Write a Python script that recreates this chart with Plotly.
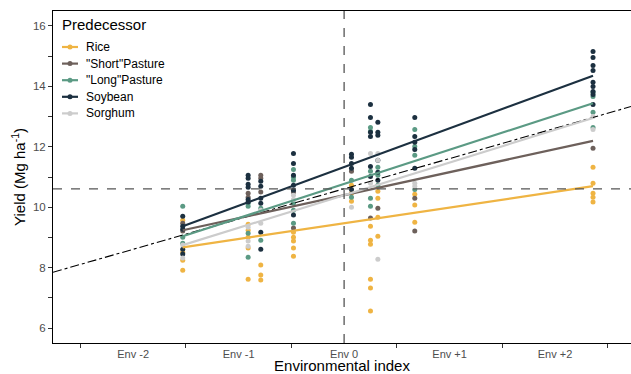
import plotly.graph_objects as go

# ---------------- data ----------------
env_index = [-1.53, -0.91, -0.79, -0.48, 0.07, 0.25, 0.32, 0.67, 2.36]
env_ticks = [-2, -1, 0, 1, 2]
env_labels = ["Env -2", "Env -1", "Env 0", "Env +1", "Env +2"]
grand_mean = 10.61

series_names = ["Rice", "\"Short\"Pasture", "\"Long\"Pasture", "Soybean", "Sorghum"]
series_colors = ["#EFB443", "#6D605B", "#5B9A84", "#1C3040", "#CCCCCC"]

rice = [
    [9.57, 8.51, 8.25, 7.92],
    [9.44, 9.24, 9.01, 8.65, 7.62],
    [8.09, 7.76, 7.59],
    [9.17, 9.01, 8.88, 8.65, 8.38],
    [10.73, 10.46, 10.20],
    [9.37, 8.91, 8.78, 7.62, 7.33, 6.57],
    [10.53, 10.30, 9.67, 9.04],
    [10.43, 10.07, 9.50],
    [11.32, 10.79, 10.46, 10.33, 10.17],
]
short_pasture = [
    [9.47, 9.21],
    [10.46, 10.33],
    [11.06, 10.96, 10.50],
    [10.50, 9.31],
    [11.19],
    [9.64],
    [9.97],
    [10.30, 9.21],
    [11.95],
]
long_pasture = [
    [10.03, 9.01, 8.81],
    [10.13, 10.03, 9.14, 8.35],
    [9.97, 8.91],
    [11.25, 10.99, 10.89, 10.13, 9.90, 9.47],
    [10.89, 10.33],
    [12.64, 12.51, 11.19, 10.30, 10.03],
    [11.32, 11.06, 10.73],
    [12.57, 12.01, 11.72, 10.59],
    [13.80, 13.66, 13.14, 12.64],
]
soybean = [
    [9.70, 9.37, 9.27, 8.61, 8.45],
    [11.06, 10.96, 10.76, 10.66, 10.26, 10.17],
    [10.86, 10.69, 10.30, 10.13, 9.17, 8.61],
    [11.78, 11.45, 11.06, 10.73, 10.56, 9.74],
    [11.75, 11.65, 11.45, 11.29, 10.59],
    [13.40, 12.97, 12.48, 12.34, 11.35, 11.02],
    [12.81, 12.48, 12.38, 11.55, 11.16, 10.89],
    [12.97, 12.34, 12.15, 11.91, 11.29],
    [15.15, 14.95, 14.69, 14.52, 14.13, 13.99, 13.83, 13.73, 13.40],
]
sorghum = [
    [8.75, 8.32],
    [9.34, 8.88, 8.71],
    [9.90, 9.47],
    [10.40, 10.26],
    [10.00],
    [11.78, 10.79],
    [11.78, 11.55, 8.28],
    [10.79, 10.69],
    [13.00, 12.57],
]
series_values = [rice, short_pasture, long_pasture, soybean, sorghum]

# fitted regression (slope, intercept at env index 0)
fit_slopes = [0.52, 0.76, 1.13, 1.28, 1.08]
fit_intercepts = [9.47, 10.40, 10.77, 11.33, 10.40]

x_range = [-2.76, 2.72]
y_range = [5.51, 16.49]

# ---------------- layout constants ----------------
W, H = 631, 374
ML, MR, MT, MB = 53, 0, 11, 31
PW, PH = W - ML - MR, H - MT - MB


def pxx(X):
    return (X - ML) / PW


def pxy(Y):
    return (H - MB - Y) / PH


# ---------------- figure ----------------
fig = go.Figure()

# points
for name, color, vals in zip(series_names, series_colors, series_values):
    xs, ys = [], []
    for ex, group in zip(env_index, vals):
        for v in group:
            xs.append(ex)
            ys.append(v)
    fig.add_trace(go.Scatter(x=xs, y=ys, mode="markers",
                             marker=dict(color=color, size=5),
                             showlegend=False, hoverinfo="skip"))

# 1:1 reference line (dot-dash)
fig.add_trace(go.Scatter(x=x_range, y=[grand_mean + v for v in x_range], mode="lines",
                         line=dict(color="black", width=1.1, dash="dashdot"),
                         showlegend=False, hoverinfo="skip"))

# regression lines
xmin, xmax = min(env_index), max(env_index)
for name, color, b, a in zip(series_names, series_colors, fit_slopes, fit_intercepts):
    fig.add_trace(go.Scatter(x=[xmin, xmax], y=[a + b * xmin, a + b * xmax], mode="lines",
                             line=dict(color=color, width=2.2),
                             showlegend=False, hoverinfo="skip"))

# reference dashed lines
fig.add_shape(type="line", xref="x", yref="paper", x0=0, x1=0, y0=0, y1=1,
              line=dict(color="#555555", width=1.3, dash="dash"))
fig.add_shape(type="line", xref="paper", yref="y", x0=0, x1=1, y0=grand_mean, y1=grand_mean,
              line=dict(color="#555555", width=1.3, dash="dash"))

# legend (drawn ggplot-style inside the panel)
font_family = "Liberation Sans, Arial, sans-serif"
fig.add_annotation(xref="paper", yref="paper", x=pxx(60), y=pxy(24),
                   xanchor="left", yanchor="middle", showarrow=False,
                   text="Predecessor", font=dict(size=15, color="black"))
for i, (name, color) in enumerate(zip(series_names, series_colors)):
    yy = pxy(47 + 16.6 * i)
    fig.add_shape(type="line", xref="paper", yref="paper",
                  x0=pxx(62), x1=pxx(78), y0=yy, y1=yy,
                  line=dict(color=color, width=2.2))
    fig.add_shape(type="circle", xref="paper", yref="paper",
                  xsizemode="pixel", ysizemode="pixel",
                  xanchor=pxx(70), yanchor=yy, x0=-2.5, x1=2.5, y0=-2.5, y1=2.5,
                  fillcolor=color, line=dict(width=0))
    fig.add_annotation(xref="paper", yref="paper", x=pxx(84), y=yy,
                       xanchor="left", yanchor="middle", showarrow=False,
                       text=name, font=dict(size=12, color="black"))

fig.update_layout(
    width=W, height=H,
    margin=dict(l=ML, r=MR, t=MT, b=MB, pad=0),
    plot_bgcolor="white", paper_bgcolor="white",
    font=dict(family=font_family, color="black"),
    showlegend=False,
    xaxis=dict(
        range=x_range, showgrid=False, zeroline=False, automargin=False,
        showline=True, linecolor="black", linewidth=1, mirror=True,
        tickmode="array", tickvals=env_ticks, ticktext=env_labels,
        ticks="outside", ticklen=1, tickcolor="rgba(0,0,0,0)",
        tickfont=dict(size=11, color="#4D4D4D"),
        minor=dict(tickmode="array", tickvals=[v + 0.5 for v in [-3, -2, -1, 0, 1, 2]],
                   ticks="outside", ticklen=4, tickcolor="#333333", tickwidth=1),
        title=dict(text="Environmental index", font=dict(size=15), standoff=6),
    ),
    yaxis=dict(
        range=y_range, showgrid=False, zeroline=False, automargin=False,
        showline=True, linecolor="black", linewidth=1,
        tickmode="array", tickvals=[6, 8, 10, 12, 14, 16],
        ticks="outside", ticklen=4, tickcolor="#333333",
        tickfont=dict(size=11.5, color="#4D4D4D"),
        minor=dict(tickmode="array", tickvals=[7, 9, 11, 13, 15],
                   ticks="outside", ticklen=4, tickcolor="#333333", tickwidth=1),
        title=dict(text="Yield (Mg ha<sup>-1</sup>)", font=dict(size=15), standoff=3),
    ),
)

fig.write_html("out.html", config={"displayModeBar": False},
               post_script="document.body.style.margin='0';document.body.style.overflow='hidden';")
